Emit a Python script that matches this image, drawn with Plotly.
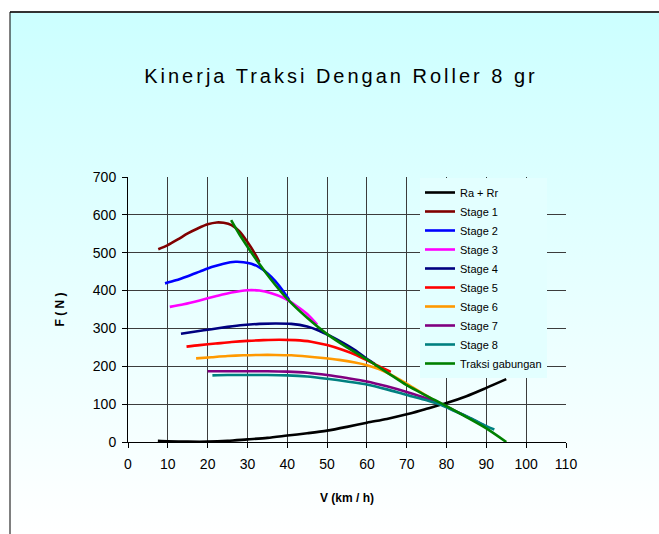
import base64
import plotly.graph_objects as go

# ---------------- data ----------------
v_rr = [7.5, 10, 15, 20, 25, 30, 35, 40, 45, 50, 55, 60, 65, 70, 75, 80, 85, 90, 95]
f_rr = [3, 2, 1, 1, 3, 7, 11, 17, 23, 30, 40, 51, 61, 73, 88, 103, 121, 143, 166]

v_s1 = [7.6, 10, 12.5, 15, 17.5, 20, 22.3, 24, 26, 28, 30, 32, 33]
f_s1 = [509, 520, 535, 551, 564, 575, 580, 579, 573, 556, 528, 495, 475]

v_s2 = [9.3, 12, 15, 18, 21, 24, 27, 29, 31, 33, 35, 37, 39, 40.5]
f_s2 = [419, 427, 438, 450, 462, 471, 476, 475, 471, 461, 446, 425, 398, 375]

v_s3 = [10.5, 14, 18, 22, 26, 30, 33, 36, 39, 42, 45, 47.5]
f_s3 = [357, 364, 374, 385, 395, 401, 400, 393, 381, 362, 338, 310]

v_s4 = [13.3, 17, 21, 25, 29, 33, 37, 41, 45, 48, 51, 54, 57, 60, 62]
f_s4 = [286, 292, 298, 304, 309, 312, 313, 312, 305, 294, 279, 262, 243, 220, 206]

v_s5 = [14.7, 18, 22, 26, 30, 34, 38, 42, 46, 50, 54, 57, 60, 63, 66]
f_s5 = [252, 256, 260, 264, 267, 269, 270, 269, 265, 256, 243, 231, 216, 200, 185]

v_s6 = [17.1, 21, 25, 29, 33, 37, 41, 45, 49, 53, 57, 60, 63, 66, 69, 72, 75, 77.5]
f_s6 = [221, 224, 227, 229, 230, 230, 229, 226, 222, 217, 210, 203, 193, 178, 160, 141, 122, 106]

v_s7 = [20, 25, 30, 35, 40, 45, 50, 55, 60, 65, 70, 75, 78, 82, 86, 90]
f_s7 = [187, 187, 187, 187, 186, 183, 177, 169, 160, 147, 132, 115, 103, 83, 62, 40]

v_s8 = [21.2, 25, 30, 35, 40, 45, 50, 55, 60, 65, 70, 75, 78, 82, 86, 90, 92]
f_s8 = [176, 177, 177, 177, 176, 173, 167, 160, 152, 139, 124, 110, 100, 82, 63, 42, 33]

v_tg = [25.9, 28, 30, 33, 36, 40, 45, 50, 55, 60, 65, 70, 75, 80, 85, 90, 95]
f_tg = [586, 548, 516, 470, 428, 378, 328, 285, 250, 218, 184, 150, 122, 95, 66, 36, 0]

series_names = ["Ra + Rr", "Stage 1", "Stage 2", "Stage 3", "Stage 4",
                "Stage 5", "Stage 6", "Stage 7", "Stage 8", "Traksi gabungan"]
series_x = [v_rr, v_s1, v_s2, v_s3, v_s4, v_s5, v_s6, v_s7, v_s8, v_tg]
series_y = [f_rr, f_s1, f_s2, f_s3, f_s4, f_s5, f_s6, f_s7, f_s8, f_tg]
series_colors = ["#000000", "#800000", "#0000ff", "#ff00ff", "#000080",
                 "#ff0000", "#ff9900", "#800080", "#008080", "#008000"]

x_ticks = list(range(0, 111, 10))
y_ticks = list(range(0, 701, 100))

title_text = "Kinerja Traksi Dengan Roller 8 gr"
x_title = "V (km / h)"
y_title = "F ( N )"

FONT = "Liberation Sans, Arial, sans-serif"

# ---------------- figure ----------------
fig = go.Figure()
for name, xs, ys, col in zip(series_names, series_x, series_y, series_colors):
    fig.add_trace(go.Scatter(x=xs, y=ys, mode="lines", name=name,
                             line=dict(color=col, width=2.6, shape="spline", smoothing=0.8)))

# gradient background (light cyan -> white)
svg = ('<svg xmlns="http://www.w3.org/2000/svg" width="100" height="100" '
       'viewBox="0 0 100 100" preserveAspectRatio="none">'
       '<defs><linearGradient id="g" x1="0" y1="0" x2="0" y2="1">'
       '<stop offset="0" stop-color="#ccffff"/><stop offset="1" stop-color="#ffffff"/>'
       '</linearGradient></defs><rect width="100" height="100" fill="url(#g)"/></svg>')
src = "data:image/svg+xml;base64," + base64.b64encode(svg.encode()).decode()

W, H = 659, 534
L, R, T, B = 128, 93, 177, 92
pw, ph = W - L - R, H - T - B

def px(xp):
    return (xp - L) / pw

def py(yp):
    return (H - B - yp) / ph

fig.add_layout_image(dict(source=src, xref="paper", yref="paper",
                          x=px(10), y=py(12), sizex=px(W) - px(10), sizey=py(12) - py(H),
                          xanchor="left", yanchor="top", sizing="stretch", layer="below"))

# outer frame (top and left edges visible)
fig.add_shape(type="line", xref="paper", yref="paper", x0=px(10), x1=px(W), y0=py(12), y1=py(12),
              line=dict(color="#333333", width=2))
fig.add_shape(type="line", xref="paper", yref="paper", x0=px(10), x1=px(10), y0=py(12), y1=py(H),
              line=dict(color="#000000", width=1))

fig.update_layout(
    width=W, height=H,
    margin=dict(l=L, r=R, t=T, b=B),
    paper_bgcolor="#ffffff",
    plot_bgcolor="rgba(0,0,0,0)",
    font=dict(family=FONT, color="#000000"),
    title=dict(text=title_text, x=341 / W, xref="container", xanchor="center",
               y=1 - 76 / H, yref="container", yanchor="middle",
               font=dict(size=20, family=FONT, color="#000000")),
    legend=dict(x=px(420), y=py(178), xanchor="left", yanchor="top",
                bgcolor="#e3ffff", borderwidth=0,
                font=dict(size=11, family=FONT, color="#000000"),
                tracegroupgap=0),
    showlegend=True,
)

fig.update_xaxes(range=[0, 110], tickvals=x_ticks, ticktext=[str(t) for t in x_ticks],
                 showgrid=True, gridcolor="#3c3c3c", gridwidth=1,
                 showline=True, linecolor="#000000", linewidth=1,
                 ticks="outside", ticklen=5, tickcolor="#000000", ticklabelstandoff=4,
                 tickfont=dict(size=14, family=FONT), zeroline=False,
                 title=dict(text="<b>" + x_title + "</b>", font=dict(size=12, family=FONT), standoff=22))
fig.update_yaxes(range=[0, 700], tickvals=y_ticks, ticktext=[str(t) for t in y_ticks],
                 showgrid=True, gridcolor="#3c3c3c", gridwidth=1,
                 showline=True, linecolor="#000000", linewidth=1,
                 ticks="outside", ticklen=5, tickcolor="#000000", ticklabelstandoff=3,
                 tickfont=dict(size=14, family=FONT), zeroline=False,
                 title=dict(text="<b>" + y_title + "</b>", font=dict(size=12, family=FONT), standoff=25))

post = ("document.body.style.margin='0px';"
        "document.querySelectorAll('.gtitle').forEach(function(e){e.style.letterSpacing='3px';});")
fig.write_html("out.html", post_script=post, config={"displayModeBar": False})
